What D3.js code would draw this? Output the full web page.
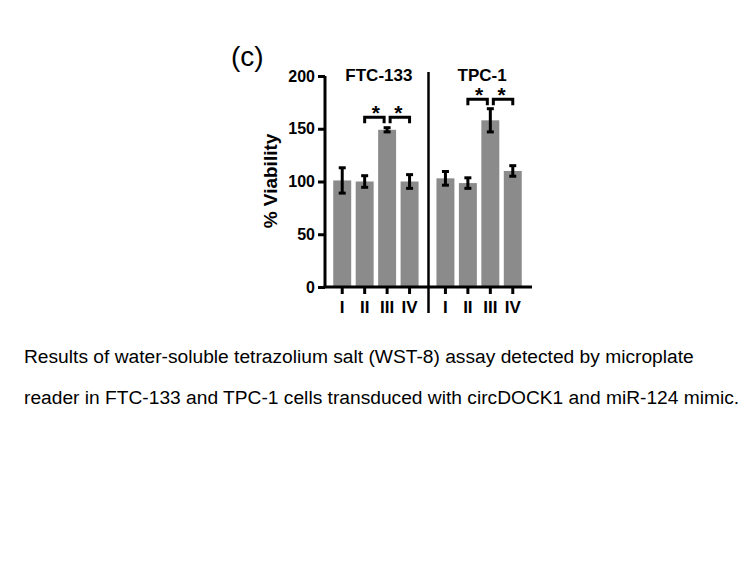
<!DOCTYPE html>
<html>
<head>
<meta charset="utf-8">
<script src="https://cdn.jsdelivr.net/npm/d3@7"></script>
<style>
  html, body { margin: 0; padding: 0; background: #fff; }
  svg { display: block; font-family: "Liberation Sans", Arial, sans-serif; }
</style>
</head>
<body>
<div id="svgOutput"></div>
<script>
// data
const panels = ["FTC-133", "TPC-1"];
const groups = ["I", "II", "III", "IV"];
const ftcMeans = [101, 100, 149, 100];
const ftcErrors = [12, 5.5, 2, 6.5];
const tpcMeans = [103, 98.5, 158, 110];
const tpcErrors = [6.5, 5, 11, 5];
const yTicks = [0, 50, 100, 150, 200];
// significance brackets: [panel, from, to, height]
const brackets = [
  ["FTC-133", "II", "III", 161],
  ["FTC-133", "III", "IV", 161],
  ["TPC-1", "II", "III", 178],
  ["TPC-1", "III", "IV", 178]
];
const caption = [
  "Results of water-soluble tetrazolium salt (WST-8) assay detected by microplate",
  "reader in FTC-133 and TPC-1 cells transduced with circDOCK1 and miR-124 mimic."
];

(function () {
  const width = 756;
  const height = 567;
  const barColor = "#8b8b8b";

  const rows = [];
  panels.forEach((p, pi) => {
    const means = pi === 0 ? ftcMeans : tpcMeans;
    const errs = pi === 0 ? ftcErrors : tpcErrors;
    groups.forEach((g, i) => rows.push({ panel: p, group: g, mean: means[i], err: errs[i] }));
  });

  // scales
  const yScale = d3.scaleLinear().domain([0, 200]).range([287, 76]);
  const panelScale = d3.scaleBand().domain(panels).range([331, 524]).paddingInner(0.13);
  const xScale = d3.scaleBand().domain(groups).range([0, panelScale.bandwidth()])
    .paddingInner(0.2).paddingOuter(0.1);
  const cx = (p, g) => panelScale(p) + xScale(g) + xScale.bandwidth() / 2;

  const svg = d3.select("#svgOutput").append("svg")
    .attr("width", width).attr("height", height)
    .attr("viewBox", [0, 0, width, height]);

  // bars
  svg.selectAll("rect.bar")
    .data(rows)
    .join("rect")
    .attr("class", "bar")
    .attr("x", d => panelScale(d.panel) + xScale(d.group))
    .attr("y", d => yScale(d.mean))
    .attr("width", xScale.bandwidth())
    .attr("height", d => yScale(0) - yScale(d.mean))
    .attr("fill", barColor);

  // error bars
  const eb = svg.selectAll("g.err").data(rows).join("g").attr("class", "err")
    .attr("stroke", "#000").attr("stroke-width", 3);
  eb.append("line")
    .attr("x1", d => cx(d.panel, d.group)).attr("x2", d => cx(d.panel, d.group))
    .attr("y1", d => yScale(d.mean - d.err)).attr("y2", d => yScale(d.mean + d.err));
  eb.selectAll("line.cap")
    .data(d => [d.mean - d.err, d.mean + d.err].map(v => ({ x: cx(d.panel, d.group), v })))
    .join("line").attr("class", "cap")
    .attr("x1", d => d.x - 3.5).attr("x2", d => d.x + 3.5)
    .attr("y1", d => yScale(d.v)).attr("y2", d => yScale(d.v));

  // y axis
  const yAxis = d3.axisLeft(yScale).tickValues(yTicks).tickSize(7).tickPadding(3);
  svg.append("g")
    .attr("transform", "translate(325,0)")
    .call(yAxis)
    .call(g => g.select(".domain").attr("d", `M0,${yScale(200)}V${yScale(0)}`)
      .attr("stroke", "#000").attr("stroke-width", 3))
    .call(g => g.selectAll(".tick line").attr("stroke", "#000").attr("stroke-width", 3))
    .call(g => g.selectAll(".tick text").attr("fill", "#000")
      .attr("font-size", 16).attr("font-weight", "bold")
      .attr("font-family", "'Liberation Sans', Arial, sans-serif"));

  // x axis baseline
  svg.append("line")
    .attr("x1", 323.5).attr("x2", 532)
    .attr("y1", yScale(0)).attr("y2", yScale(0))
    .attr("stroke", "#000").attr("stroke-width", 3);

  // x ticks and labels
  svg.selectAll("line.xtick").data(rows).join("line").attr("class", "xtick")
    .attr("x1", d => cx(d.panel, d.group)).attr("x2", d => cx(d.panel, d.group))
    .attr("y1", yScale(0)).attr("y2", yScale(0) + 7)
    .attr("stroke", "#000").attr("stroke-width", 3);
  svg.selectAll("text.xlab").data(rows).join("text").attr("class", "xlab")
    .attr("x", d => cx(d.panel, d.group)).attr("y", yScale(0) + 26)
    .attr("text-anchor", "middle")
    .attr("font-size", 17).attr("font-weight", "bold")
    .text(d => d.group);

  // panel divider
  const divX = (panelScale("FTC-133") + panelScale.bandwidth() + panelScale("TPC-1")) / 2 + 1;
  svg.append("line")
    .attr("x1", divX).attr("x2", divX).attr("y1", 72).attr("y2", 313)
    .attr("stroke", "#000").attr("stroke-width", 2.5);

  // panel titles
  svg.selectAll("text.ptitle").data(panels).join("text").attr("class", "ptitle")
    .attr("x", p => panelScale(p) + panelScale.bandwidth() / 2 + 3)
    .attr("y", 81)
    .attr("text-anchor", "middle")
    .attr("font-size", 17).attr("font-weight", "bold")
    .text(p => p);

  // significance brackets
  const bg = svg.selectAll("g.br").data(brackets).join("g").attr("class", "br");
  bg.append("path")
    .attr("d", d => {
      const x1 = cx(d[0], d[1]) + (d[1] === "III" ? 3 : 0);
      const x2 = cx(d[0], d[2]) - (d[2] === "III" ? 3 : 0);
      const y = yScale(d[3]);
      return `M${x1},${y + 6}V${y}H${x2}V${y + 6}`;
    })
    .attr("fill", "none").attr("stroke", "#000").attr("stroke-width", 3);
  bg.append("text")
    .attr("x", d => (cx(d[0], d[1]) + cx(d[0], d[2])) / 2)
    .attr("y", d => yScale(d[3]) + 3)
    .attr("text-anchor", "middle")
    .attr("font-size", 21).attr("font-weight", "bold")
    .text("*");

  // y label
  svg.append("text")
    .attr("transform", "translate(277,181) rotate(-90)")
    .attr("text-anchor", "middle")
    .attr("font-size", 19).attr("font-weight", "bold")
    .text("% Viability");

  // panel letter
  svg.append("text")
    .attr("x", 231).attr("y", 66)
    .attr("font-size", 28)
    .text("(c)");

  // caption
  svg.selectAll("text.cap").data(caption).join("text").attr("class", "cap")
    .attr("x", 24).attr("y", (d, i) => 363 + i * 41)
    .attr("font-size", 19.2)
    .text(d => d);
})();
</script>
</body>
</html>
